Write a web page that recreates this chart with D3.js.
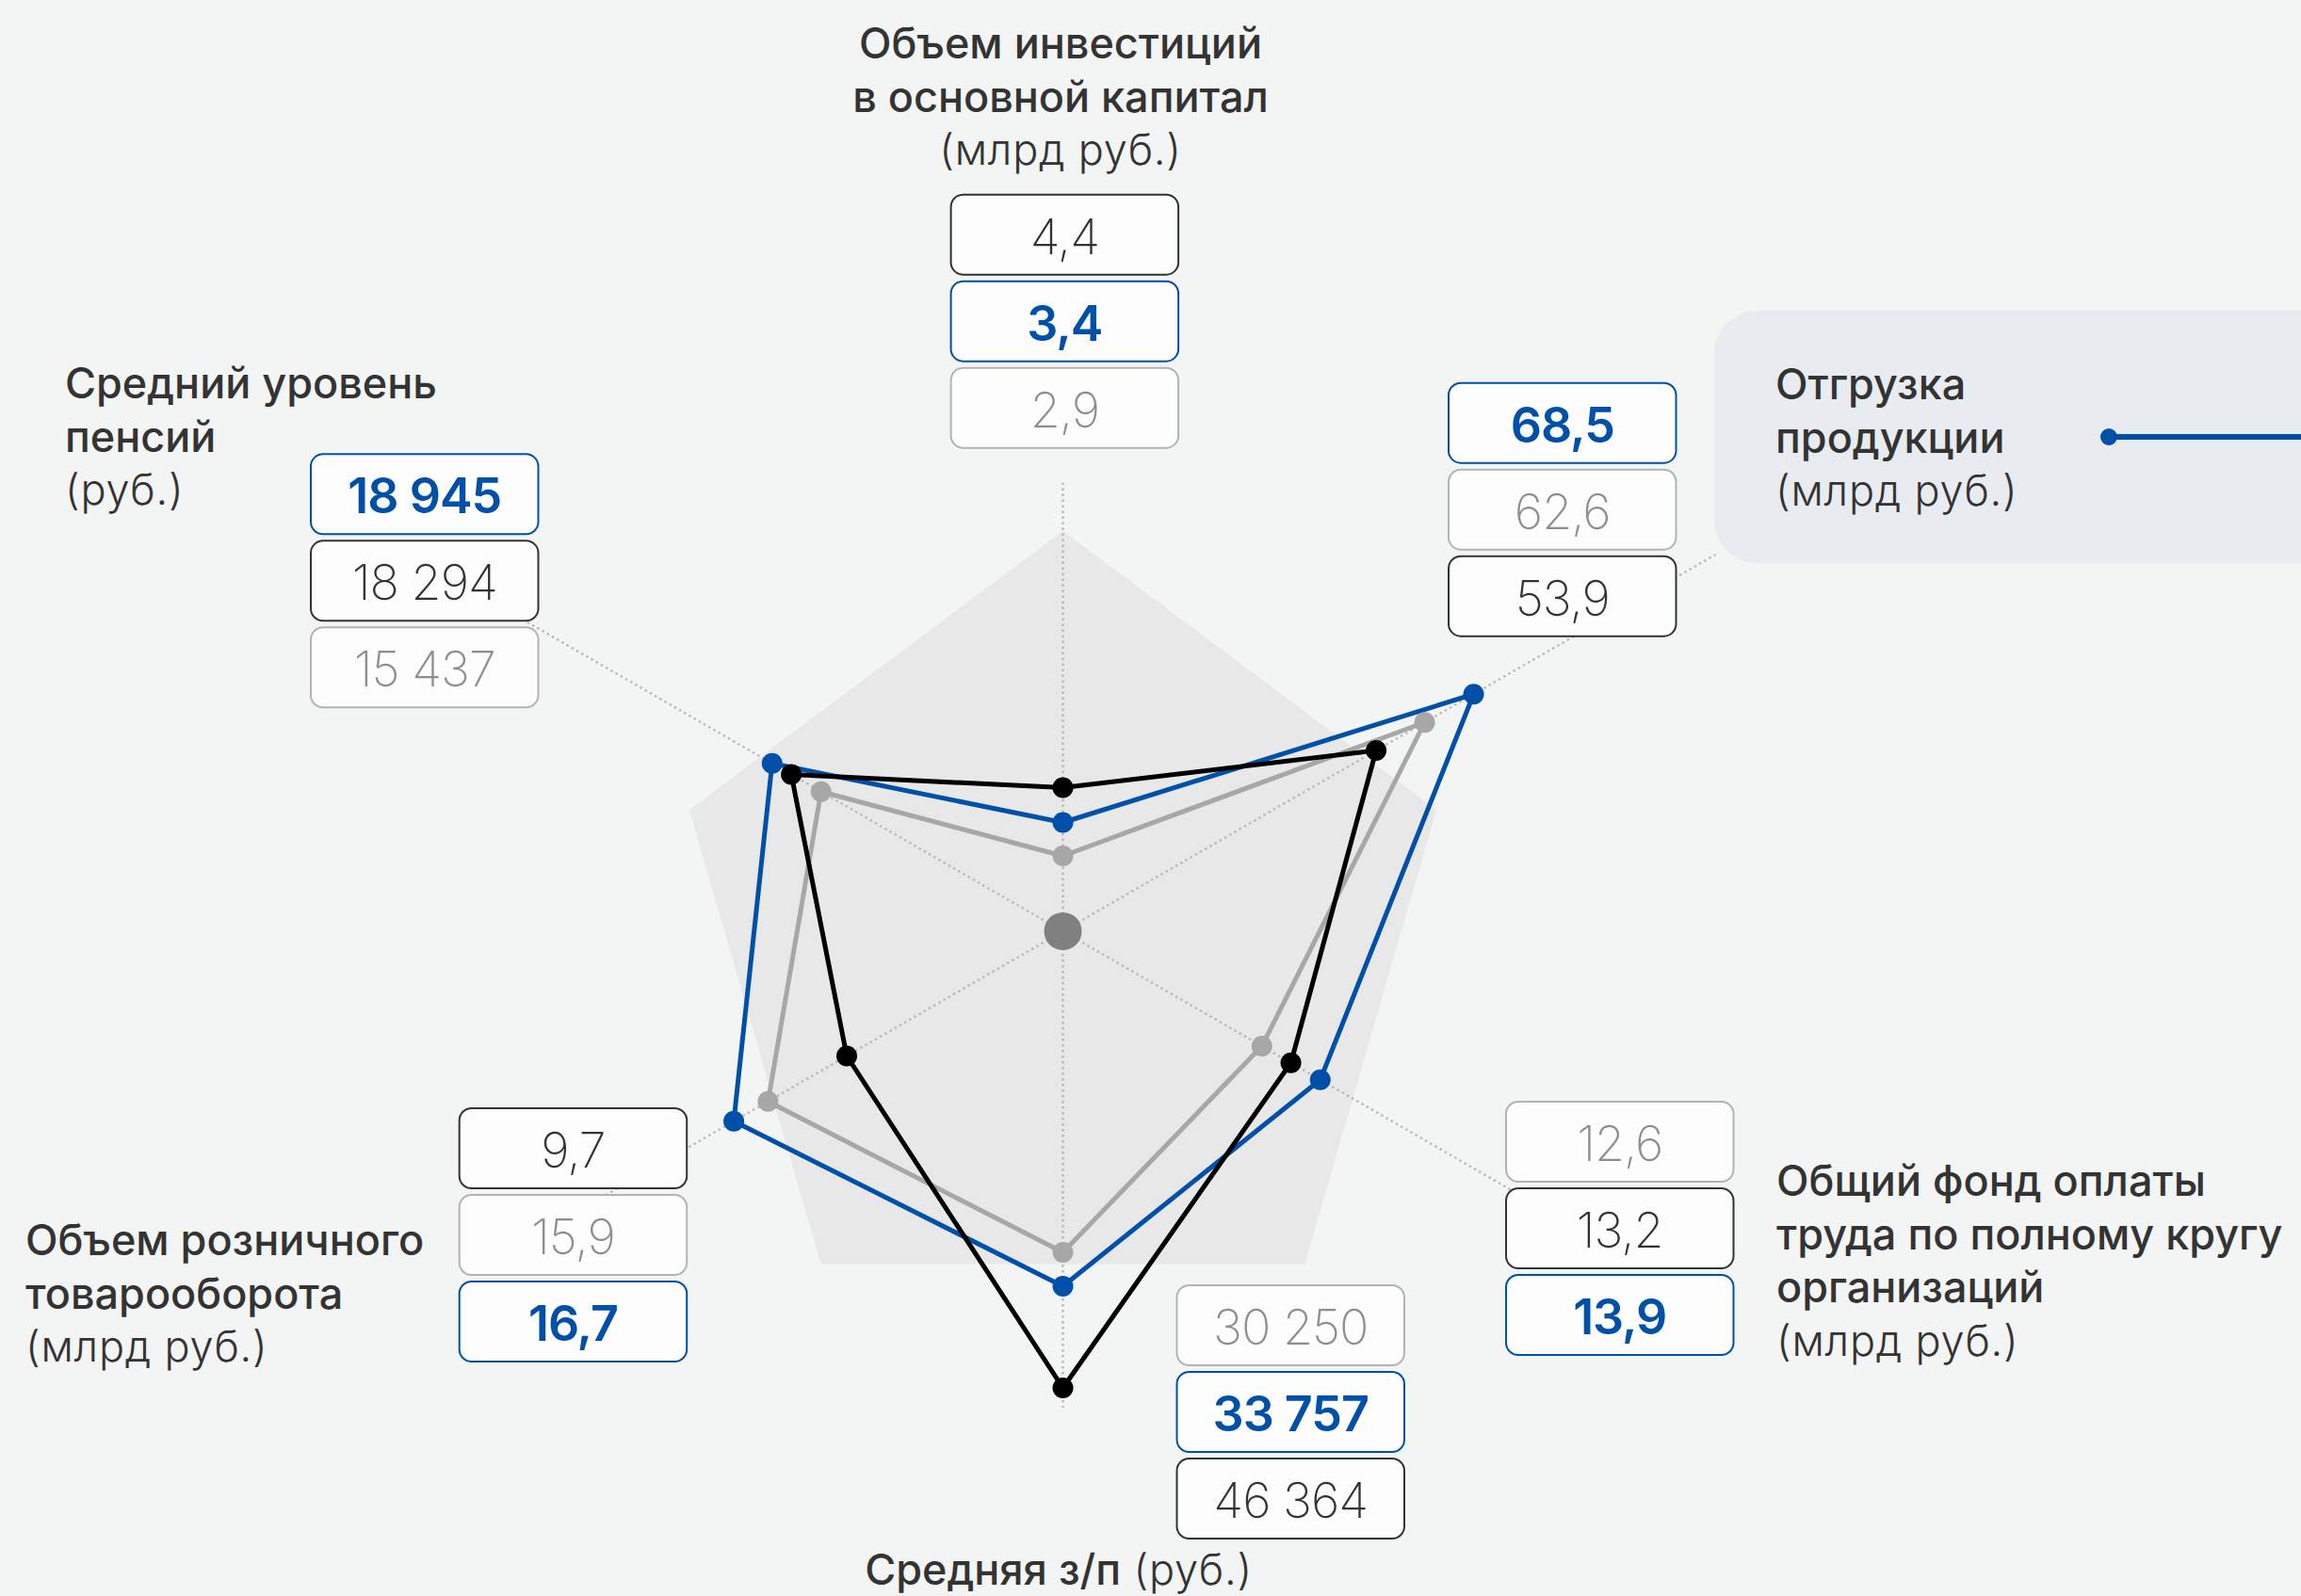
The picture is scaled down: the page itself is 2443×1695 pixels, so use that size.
<!DOCTYPE html>
<html><head><meta charset="utf-8">
<script src="https://cdn.jsdelivr.net/npm/d3@7"></script>
<style>
html,body{margin:0;padding:0;background:#f3f4f4;overflow:hidden}
svg{display:block;font-family:Inter,"Noto Sans",sans-serif}
</style></head><body>
<svg id="chart" width="2443" height="1695"></svg>
<script>
// ---------- DATA ----------
const categories = [
  ["Объем инвестиций", "в основной капитал"],
  ["Отгрузка", "продукции"],
  ["Общий фонд оплаты", "труда по полному кругу", "организаций"],
  ["Средняя з/п"],
  ["Объем розничного", "товарооборота"],
  ["Средний уровень", "пенсий"]
];
const units = ["(млрд руб.)", "(млрд руб.)", "(млрд руб.)", "(руб.)", "(млрд руб.)", "(руб.)"];
const decimals = [1, 1, 1, 0, 1, 0];

// displayed values
const valuesGray  = [2.9, 62.6, 12.6, 30250, 15.9, 15437];
const valuesBlack = [4.4, 53.9, 13.2, 46364, 9.7, 18294];
const valuesBlue  = [3.4, 68.5, 13.9, 33757, 16.7, 18945];
// plotted position on each axis (index, 0–100 of axis length)
const indexGray  = [16.0, 88.7, 48.8, 68.2, 72.3, 59.3];
const indexBlack = [30.5, 76.8, 55.9, 97.0, 53.0, 66.6];
const indexBlue  = [23.1, 100.7, 63.1, 75.4, 80.7, 71.3];

const highlighted = 1; // axis with the highlighted label panel

// ---------- LAYOUT ----------
const W = 2443, H = 1695;
const cx = 1128.5, cy = 989;
const svg = d3.select("#chart");
const ru = d3.formatLocale({decimal: ",", thousands: "\u00a0", grouping: [3], currency: ["", ""]});
const fmt = (v, d) => d ? ru.format(",." + d + "f")(v) : ru.format(",d")(v);

const n = categories.length;
const angle = d3.scaleLinear().domain([0, n]).range([0, 2 * Math.PI]);
const rScale = d3.scaleLinear().domain([0, 100]).range([0, 500]);
const pt = (i, r) => [cx + r * Math.sin(angle(i)), cy - r * Math.cos(angle(i))];

const axisExtent = [478, 800, 706, 506, 600, 680];
const boxPos = [[1009.6, 206.7], [1538, 406.7], [1599, 1170], [1249.5, 1365], [487.7, 1177], [330, 482.3]];
const boxW = 241.5, boxH = 85, boxStep = 92;
const labelPos = [
  {x: 1126, y: 62, anchor: "middle"},
  {x: 1885, y: 424, anchor: "start"},
  {x: 1886, y: 1270, anchor: "start"},
  {x: 1124, y: 1683, anchor: "middle", inline: true},
  {x: 27, y: 1333, anchor: "start"},
  {x: 69, y: 423, anchor: "start"}
];
const lineH = 56.5;

const series = [
  {values: valuesGray,  index: indexGray,  color: "#a7a7a7", box: "#b3b3b3", text: "#8e8e8e", weight: 250},
  {values: valuesBlue,  index: indexBlue,  color: "#0050aa", box: "#0050aa", text: "#0050aa", weight: 600},
  {values: valuesBlack, index: indexBlack, color: "#000000", box: "#333333", text: "#333333", weight: 250}
];

// ---------- BACKGROUND ----------
svg.append("rect").attr("width", W).attr("height", H).attr("fill", "#f3f4f4");

// decorative pentagon
const pentR = [425, 417, 437, 437, 417];
const pent = d3.range(5).map(k => {
  const a = k * 2 * Math.PI / 5;
  return [cx + pentR[k] * Math.sin(a), cy - pentR[k] * Math.cos(a)];
});
svg.append("path").attr("d", d3.line()(pent) + "Z").attr("fill", "#e8e8e8");

// highlighted axis label panel
svg.append("rect").attr("x", 1820).attr("y", 330).attr("width", 720).attr("height", 268)
  .attr("rx", 46).attr("fill", "#e8ecf0");
svg.append("line").attr("x1", 2239).attr("x2", W + 10).attr("y1", 464).attr("y2", 464)
  .attr("stroke", "#0050aa").attr("stroke-width", 6);
svg.append("circle").attr("cx", 2239).attr("cy", 464).attr("r", 9).attr("fill", "#0050aa");

// ---------- AXES ----------
svg.append("g").selectAll("line").data(d3.range(n)).join("line")
  .attr("x1", cx).attr("y1", cy)
  .attr("x2", i => pt(i, axisExtent[i])[0]).attr("y2", i => pt(i, axisExtent[i])[1])
  .attr("stroke", "#b9b9b9").attr("stroke-width", 2.5).attr("stroke-dasharray", "2.5 3.5");

// ---------- SERIES ----------
const radial = d3.lineRadial()
  .angle((d, i) => angle(i))
  .radius(d => rScale(d))
  .curve(d3.curveLinearClosed);

const sg = svg.append("g").attr("transform", `translate(${cx},${cy})`);
series.forEach(s => {
  sg.append("path").attr("d", radial(s.index)).attr("fill", "none")
    .attr("stroke", s.color).attr("stroke-width", 5).attr("stroke-linejoin", "round");
});
series.forEach(s => {
  sg.append("g").selectAll("circle").data(s.index).join("circle")
    .attr("cx", (d, i) => rScale(d) * Math.sin(angle(i)))
    .attr("cy", (d, i) => -rScale(d) * Math.cos(angle(i)))
    .attr("r", 11).attr("fill", s.color);
});
svg.append("circle").attr("cx", cx).attr("cy", cy).attr("r", 20).attr("fill", "#808080");

// ---------- VALUE BOXES ----------
for (let i = 0; i < n; i++) {
  const upper = Math.cos(angle(i)) > 0;
  const ordered = series.slice().sort((a, b) => upper ? b.values[i] - a.values[i] : a.values[i] - b.values[i]);
  const g = svg.append("g");
  ordered.forEach((s, k) => {
    const x = boxPos[i][0], y = boxPos[i][1] + k * boxStep;
    g.append("rect").attr("x", x).attr("y", y).attr("width", boxW).attr("height", boxH)
      .attr("rx", 13).attr("fill", "#fdfdfd").attr("stroke", s.box).attr("stroke-width", 2);
    g.append("text").attr("x", x + boxW / 2).attr("y", y + 63)
      .attr("text-anchor", "middle").attr("font-size", 52).attr("font-weight", s.weight)
      .attr("fill", s.text).attr("letter-spacing", -1)
      .text(fmt(s.values[i], decimals[i]));
  });
}

// ---------- AXIS LABELS ----------
categories.forEach((lines, i) => {
  const p = labelPos[i];
  const t = svg.append("text").attr("x", p.x).attr("y", p.y).attr("text-anchor", p.anchor)
    .attr("font-size", 45).attr("fill", "#333333");
  if (p.inline) {
    t.append("tspan").attr("font-weight", 550).text(lines[0]);
    t.append("tspan").attr("font-weight", 300).attr("letter-spacing", 0.8).text(" " + units[i]);
  } else {
    lines.forEach((l, k) => {
      t.append("tspan").attr("x", p.x).attr("y", p.y + k * lineH).attr("font-weight", 550).text(l);
    });
    t.append("tspan").attr("x", p.x).attr("y", p.y + lines.length * lineH)
      .attr("font-weight", 300).attr("letter-spacing", 0.8).text(units[i]);
  }
});
</script>
</body></html>
